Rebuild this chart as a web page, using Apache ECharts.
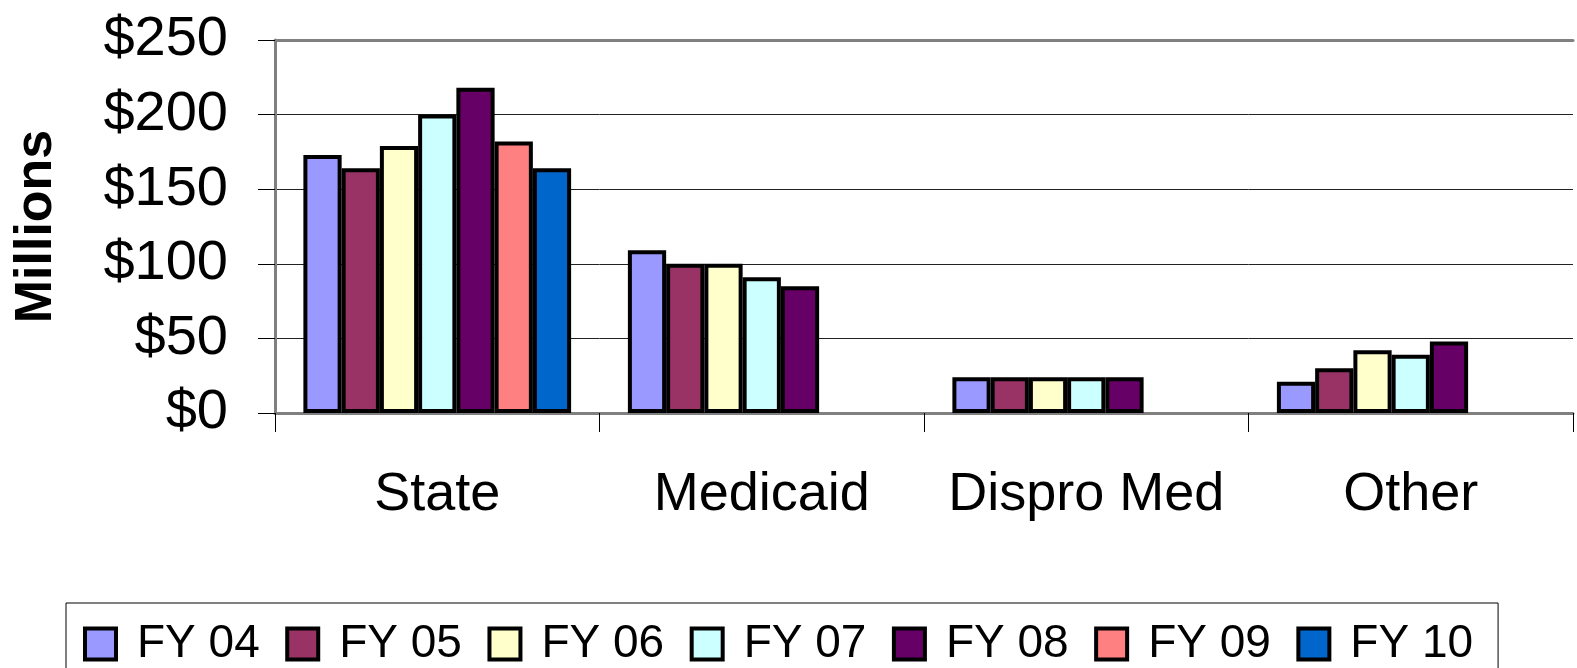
<!DOCTYPE html>
<html>
<head>
<meta charset="utf-8">
<script src="https://cdn.jsdelivr.net/npm/echarts@6/dist/echarts.min.js"></script>
<style>
  html, body { margin: 0; padding: 0; background: #fff; }
  #chart { width: 1577px; height: 668px; }
</style>
</head>
<body>
<div id="chart"></div>
<script>
  // categories and values (millions of dollars)
  var categories = ['State', 'Medicaid', 'Dispro Med', 'Other']
  var seriesNames = ['FY 04', 'FY 05', 'FY 06', 'FY 07', 'FY 08', 'FY 09', 'FY 10']
  var fy04 = [173, 109, 24, 21]
  var fy05 = [164, 100, 24, 30]
  var fy06 = [179, 100, 24, 42]
  var fy07 = [200, 91, 24, 39]
  var fy08 = [218, 85, 24, 48]
  var fy09 = [182, null, null, null]
  var fy10 = [164, null, null, null]
  var yTicks = [0, 50, 100, 150, 200, 250]

  var values = [fy04, fy05, fy06, fy07, fy08, fy09, fy10]
  var colors = ['#9999FF', '#993366', '#FFFFCC', '#CCFFFF', '#660066', '#FF8080', '#0066CC']
  var font = "'Liberation Sans', Arial, sans-serif"

  var chart = echarts.init(document.getElementById('chart'))

  var series = seriesNames.map(function (name, i) {
    return {
      name: name,
      type: 'bar',
      data: values[i],
      barGap: '0%',
      barCategoryGap: '17.5%',
      itemStyle: {
        color: colors[i],
        borderColor: '#000',
        borderWidth: 4
      }
    }
  })

  chart.setOption({
    animation: false,
    textStyle: { fontFamily: font },
    grid: { left: 275, top: 40, right: 4, bottom: 255 },
    legend: {
      data: seriesNames,
      left: 66,
      top: 603,
      padding: [16, 25, 20, 17],
      borderColor: '#000',
      borderWidth: 1,
      itemWidth: 31,
      itemHeight: 31,
      itemGap: 25.5,
      icon: 'rect',
      itemStyle: { borderColor: '#000', borderWidth: 4 },
      textStyle: {
        fontFamily: font,
        fontSize: 46,
        lineHeight: 50,
        color: '#000',
        padding: [0, 0, 0, 16]
      }
    },
    xAxis: [
      {
        type: 'category',
        data: categories,
        axisLine: { lineStyle: { color: '#808080', width: 3 } },
        axisTick: { show: true, interval: 0, length: 19, lineStyle: { color: '#000', width: 1 } },
        axisLabel: { interval: 0, fontFamily: font, fontSize: 54, color: '#000', margin: 55 }
      },
      {
        type: 'category',
        position: 'top',
        data: categories,
        axisLine: { lineStyle: { color: '#808080', width: 3 } },
        axisTick: { show: false },
        axisLabel: { show: false }
      }
    ],
    yAxis: {
      type: 'value',
      min: yTicks[0],
      max: yTicks[yTicks.length - 1],
      interval: 50,
      name: 'Millions',
      nameLocation: 'middle',
      nameGap: 212,
      nameTextStyle: { fontFamily: font, fontSize: 52, fontWeight: 'bold', color: '#000' },
      axisLine: { show: true, lineStyle: { color: '#808080', width: 3 } },
      axisTick: { show: true, length: 17, lineStyle: { color: '#000', width: 1 } },
      axisLabel: {
        fontFamily: font,
        fontSize: 56,
        color: '#000',
        margin: 47,
        formatter: function (v) { return '$' + v }
      },
      splitLine: { show: true, lineStyle: { color: '#222', width: 1 } }
    },
    series: series
  })
</script>
</body>
</html>
